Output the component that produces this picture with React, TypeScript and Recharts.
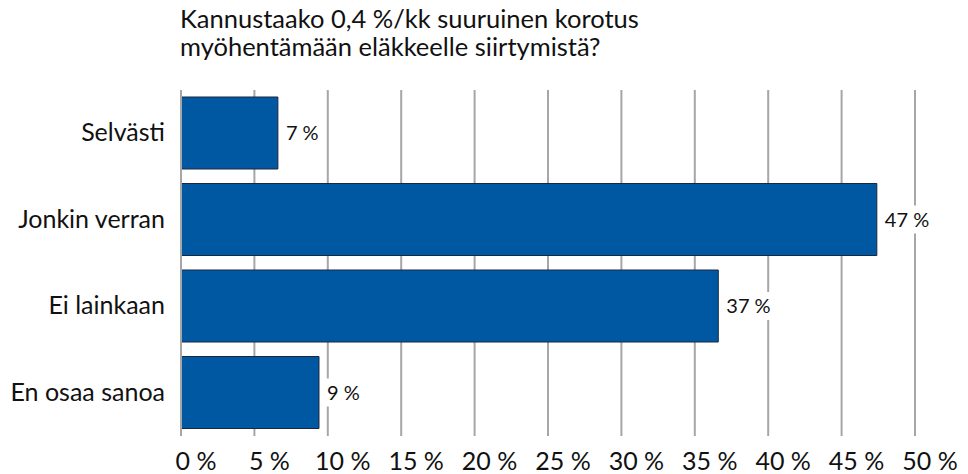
import React from "react";
import { BarChart, Bar, XAxis, YAxis, CartesianGrid, LabelList } from "recharts";

const categories = ["Selvästi", "Jonkin verran", "Ei lainkaan", "En osaa sanoa"];
const values = [6.6, 47.4, 36.6, 9.4];
const xTicks = [0, 5, 10, 15, 20, 25, 30, 35, 40, 45, 50];
const titleLines = ["Kannustaako 0,4 %/kk suuruinen korotus", "myöhentämään eläkkeelle siirtymistä?"];

const data = categories.map((c, i) => ({ name: c, value: values[i] }));

const FONT = "Lato, 'Liberation Sans', sans-serif";

const XTick = (props: any) => {
  const { x, y, payload } = props;
  return (
    <text x={x + 15} y={y} dy={26} textAnchor="middle" fontFamily={FONT} fontSize={25} fill="#111">
      {payload.value + " %"}
    </text>
  );
};

const YTick = (props: any) => {
  const { x, y, payload } = props;
  return (
    <text x={x - 8} y={y} dy={8} textAnchor="end" fontFamily={FONT} fontSize={25} fill="#111">
      {payload.value}
    </text>
  );
};

const ValueLabel = (props: any) => {
  const { x, y, width, height, value } = props;
  const txt = Math.round(value) + " %";
  const lx = x + width + 8;
  const cy = y + height / 2;
  const w = txt.length * 11;
  return (
    <g>
      <rect x={lx - 2} y={cy - 14} width={w + 4} height={28} fill="#fff" />
      <text x={lx} y={cy} dy={7} fontFamily={FONT} fontSize={20} fill="#111">
        {txt}
      </text>
    </g>
  );
};

export default function App() {
  return (
    <div style={{ position: "absolute", left: 0, top: 0, width: 968, height: 474, background: "#fff" }}>
      <div
        style={{
          position: "absolute",
          left: 180,
          top: 4,
          fontFamily: FONT,
          fontSize: 25.5,
          lineHeight: "28px",
          color: "#111",
          whiteSpace: "nowrap",
        }}
      >
        {titleLines.map((t) => (
          <div key={t}>{t}</div>
        ))}
      </div>
      <BarChart
        width={968}
        height={474}
        data={data}
        layout="vertical"
        margin={{ top: 90, right: 53, bottom: 0, left: 0 }}
        barCategoryGap={7}
      >
        <CartesianGrid horizontal={false} vertical={true} stroke="#a6a6a6" strokeWidth={2} />
        <XAxis
          type="number"
          domain={[0, 50]}
          ticks={xTicks}
          axisLine={false}
          tickLine={false}
          height={38}
          tick={<XTick />}
          interval={0}
        />
        <YAxis
          type="category"
          dataKey="name"
          width={181}
          axisLine={{ stroke: "#a6a6a6", strokeWidth: 2 }}
          tickLine={false}
          tick={<YTick />}
        />
        <Bar dataKey="value" fill="#0058a2" stroke="#1a2740" strokeWidth={1} barSize={72} isAnimationActive={false}>
          <LabelList dataKey="value" content={<ValueLabel />} />
        </Bar>
      </BarChart>
    </div>
  );
}
